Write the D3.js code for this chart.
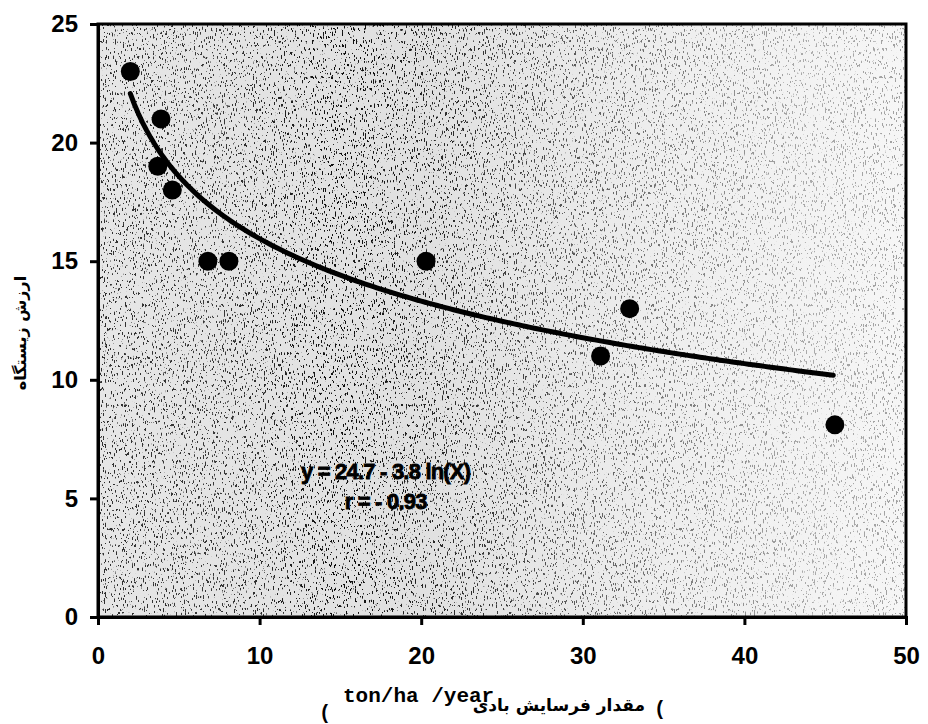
<!DOCTYPE html>
<html>
<head>
<meta charset="utf-8">
<script src="https://cdn.jsdelivr.net/npm/d3@7"></script>
<style>
  html, body { margin: 0; padding: 0; background: #fff; }
  svg { display: block; }
</style>
</head>
<body>
<svg id="chart" width="928" height="724"></svg>
<script>
// ---- data ----
const erosion = [2.0, 3.9, 3.7, 4.6, 6.8, 8.1, 20.3, 31.1, 32.9, 45.6];   // ton/ha/year
const habitat = [23, 21, 19, 18, 15, 15, 15, 11, 13, 8.1];
const xTicks = [0, 10, 20, 30, 40, 50];
const yTicks = [0, 5, 10, 15, 20, 25];
const fitA = 24.7, fitB = 3.8;            // y = a - b ln(x)
const fitRange = [2.0, 45.5];
const eqLines = ["y = 24.7 - 3.8 ln(X)", "r = - 0.93"];
const yTitle = "ارزش زیستگاه";
const xTitleFa = "مقدار فرسایش بادی";
const xTitleUnit = "ton/ha /year";

// ---- layout ----
const svg = d3.select("#chart");
const L = 98, R = 906, T = 24, B = 617;
const x = d3.scaleLinear().domain([0, 50]).range([L, R]);
const y = d3.scaleLinear().domain([0, 25]).range([B, T]);

// ---- textured background ----
const defs = svg.append("defs");
const grad = defs.append("linearGradient").attr("id", "densGrad").attr("x1", 0).attr("x2", 1).attr("y1", 0).attr("y2", 0);
[[0, 0.8], [0.15, 0.75], [0.3, 0.95], [0.45, 0.8], [0.6, 0.6], [0.75, 0.45], [0.88, 0.3], [1, 0.35]].forEach(([o, a]) =>
  grad.append("stop").attr("offset", o).attr("stop-color", "#000").attr("stop-opacity", a));
const baseGrad = defs.append("linearGradient").attr("id", "baseGrad").attr("x1", 0).attr("x2", 1).attr("y1", 0).attr("y2", 0);
[[0, "#e6e6e6"], [0.4, "#e0e0e0"], [0.7, "#eeeeee"], [1, "#f6f6f6"]].forEach(([o, c]) =>
  baseGrad.append("stop").attr("offset", o).attr("stop-color", c));

const f = defs.append("filter").attr("id", "speckle")
  .attr("x", 0).attr("y", 0).attr("width", "100%").attr("height", "100%");
f.append("feTurbulence").attr("type", "fractalNoise").attr("baseFrequency", "0.9 0.25")
  .attr("numOctaves", 2).attr("seed", 7).attr("result", "t");
f.append("feColorMatrix").attr("in", "t").attr("type", "matrix")
  .attr("values", "0 0 0 0 0  0 0 0 0 0  0 0 0 0 0  -22 0 0 0 8.1").attr("result", "dots");
f.append("feComposite").attr("in", "dots").attr("in2", "SourceGraphic").attr("operator", "in");

svg.append("rect").attr("x", L).attr("y", T).attr("width", R - L).attr("height", B - T)
  .attr("fill", "url(#baseGrad)");
svg.append("rect").attr("x", L).attr("y", T).attr("width", R - L).attr("height", B - T)
  .attr("fill", "url(#densGrad)").attr("filter", "url(#speckle)");

// ---- frame ----
svg.append("rect").attr("x", L).attr("y", T).attr("width", R - L).attr("height", B - T)
  .attr("fill", "none").attr("stroke", "#000").attr("stroke-width", 3);

// ---- axes ----
const xAxis = svg.append("g").attr("transform", `translate(0,${B})`)
  .call(d3.axisBottom(x).tickValues(xTicks).tickFormat(d3.format("d")).tickSize(8).tickPadding(22));
const yAxis = svg.append("g").attr("transform", `translate(${L},0)`)
  .call(d3.axisLeft(y).tickValues(yTicks).tickFormat(d3.format("d")).tickSize(8).tickPadding(12));
[xAxis, yAxis].forEach(g => {
  g.attr("font-size", null).attr("font-family", null);
  g.select(".domain").attr("stroke", "#000").attr("stroke-width", 3);
  g.selectAll(".tick line").attr("stroke", "#000").attr("stroke-width", 3);
  g.selectAll(".tick text").attr("fill", "#000")
    .style("font-family", "'Liberation Sans', Arial, sans-serif")
    .style("font-weight", "bold").style("font-size", "24px");
});

// ---- fitted curve ----
const curveX = d3.range(fitRange[0], fitRange[1] + 0.001, 0.25);
svg.append("path")
  .datum(curveX)
  .attr("fill", "none").attr("stroke", "#000").attr("stroke-width", 5).attr("stroke-linecap", "round")
  .attr("d", d3.line().x(d => x(d)).y(d => y(fitA - fitB * Math.log(d))));

// ---- points ----
svg.append("g").selectAll("circle").data(erosion).join("circle")
  .attr("cx", d => x(d)).attr("cy", (d, i) => y(habitat[i]))
  .attr("r", 9.5).attr("fill", "#000");

// ---- equation ----
svg.append("g").selectAll("text").data(eqLines).join("text")
  .attr("x", x(17.8)).attr("y", (d, i) => y(5.8) + i * 30)
  .attr("text-anchor", "middle")
  .style("font-family", "'Liberation Sans', Arial, sans-serif")
  .style("font-weight", "bold").style("font-size", "22px")
  .style("letter-spacing", "-0.8px")
  .attr("fill", "#000").attr("stroke", "#000").attr("stroke-width", 0.8)
  .text(d => d);

// ---- axis titles ----
svg.append("text")
  .attr("transform", `translate(26,333) rotate(-90)`)
  .attr("text-anchor", "middle")
  .style("font-family", "'DejaVu Sans', 'Noto Sans', sans-serif")
  .style("font-weight", "bold").style("font-size", "16px")
  .attr("fill", "#000")
  .text(yTitle);

const tFont = "'Liberation Mono', 'Courier New', monospace";
svg.append("text").attr("x", 325).attr("y", 719).attr("text-anchor", "middle")
  .style("font-family", tFont).style("font-weight", "bold").style("font-size", "20px").text("(");
svg.append("text").attr("x", 343).attr("y", 702).attr("text-anchor", "start")
  .style("font-family", tFont).style("font-weight", "bold").style("font-size", "21px")
  .text(xTitleUnit);
svg.append("text").attr("x", 645).attr("y", 711).attr("text-anchor", "end")
  .style("font-family", "'DejaVu Sans', 'Noto Sans', sans-serif")
  .style("font-weight", "bold").style("font-size", "17px")
  .text(xTitleFa);
svg.append("text").attr("x", 660).attr("y", 715).attr("text-anchor", "middle")
  .style("font-family", tFont).style("font-weight", "bold").style("font-size", "20px").text("(");
</script>
</body>
</html>
